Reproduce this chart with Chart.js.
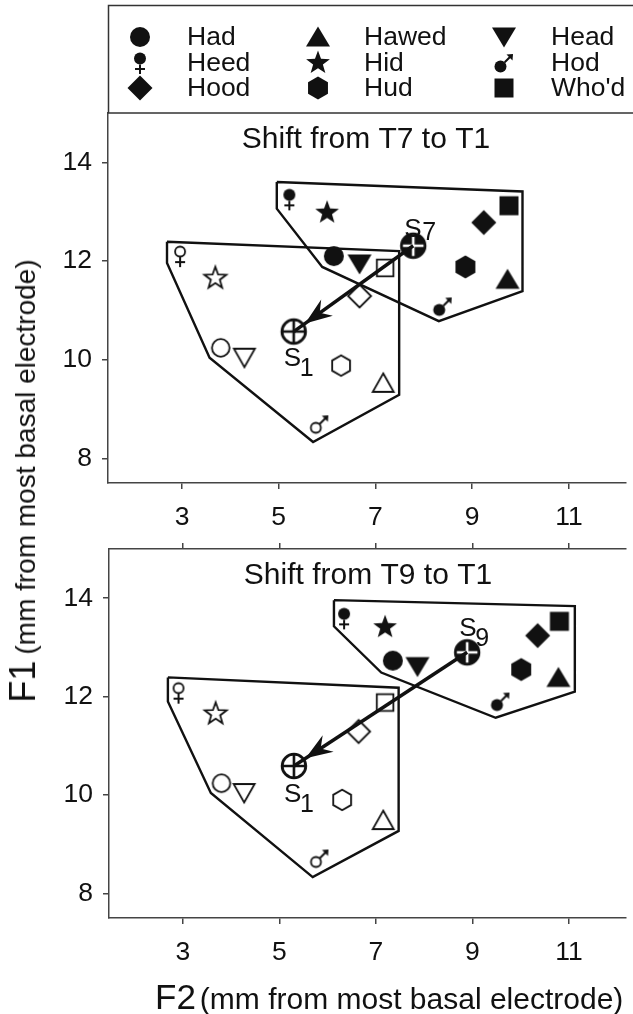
<!DOCTYPE html>
<html><head><meta charset="utf-8">
<script src="https://cdn.jsdelivr.net/npm/chart.js@4.4.0/dist/chart.umd.min.js"></script>
<style>
html,body{margin:0;padding:0;background:#fff;}
#wrap{position:relative;width:633px;height:1014px;overflow:hidden;font-family:"Liberation Sans",Arial,sans-serif;color:#111;}
#c1{position:absolute;left:0;top:0;}
#c2{position:absolute;left:0;top:540px;}
#ylab{position:absolute;left:23px;top:481px;transform:translate(-50%,-50%) rotate(-90deg);white-space:nowrap;line-height:1;}
#xlab{position:absolute;left:155px;top:979px;white-space:nowrap;line-height:1;}
</style></head>
<body><div id="wrap">
<canvas id="c1" width="633" height="540" style="width:633px;height:540px"></canvas>
<canvas id="c2" width="633" height="474" style="width:633px;height:474px"></canvas>
<div id="ylab"><span style="font-size:36px">F1</span><span style="font-size:28px;margin-left:6px">(mm from most basal electrode)</span></div>
<div id="xlab"><span style="font-size:35px">F2</span><span style="font-size:30px;margin-left:4px">(mm from most basal electrode)</span></div>
</div>
<script>
// ---------- data ----------
const vowels = ['Had','Hawed','Head','Heed','Hid','Hod','Hood','Hud',"Who'd"];
const xTicks = [3,5,7,9,11];
const yTicks = [8,10,12,14];
const titles = ['Shift from T7 to T1','Shift from T9 to T1'];

// Panel 1: T7 (filled) and T1 (open)   F2 = x, F1 = y
const t7F2 = [6.14, 9.73, 6.67, 5.22, 6.00, 8.39, 9.24, 8.86, 9.76];
const t7F1 = [12.10,11.63,11.94,13.25,12.98,11.08,12.78,11.88,13.12];
const t1aF2 = [3.80, 7.16, 4.29, 2.96, 3.69, 5.84, 6.67, 6.29, 7.20];
const t1aF1 = [10.24, 9.53,10.04,12.10,11.65, 8.69,11.29, 9.88,11.86];
const s7 = [7.78, 12.31];
const s1a = [5.31, 10.57];
const polyT7F2 = [4.96,10.04,10.04,8.31,5.90,4.96];
const polyT7F1 = [13.60,13.41,11.39,10.78,11.88,13.06];
const polyT1aF2 = [2.69,7.49,7.49,5.71,3.57,2.69];
const polyT1aF1 = [12.39,12.20,9.29,8.33,10.04,11.96];

// Panel 2: T9 (filled) and T1 (open)
const t9F2 = [7.35,10.78,7.86,6.34,7.19,9.58,10.35,10.01,10.80];
const t9F1 = [12.73,12.39,12.61,13.59,13.41,11.90,13.24,12.55,13.53];
const t1bF2 = [3.80, 7.15, 4.27, 2.91, 3.68, 5.83, 6.64, 6.30, 7.19];
const t1bF1 = [10.24, 9.49,10.04,12.08,11.65, 8.71,11.29, 9.90,11.88];
const s9 = [8.89, 12.90];
const s1b = [5.30, 10.59];
const polyT9F2 = [6.13,11.12,11.12,9.48,7.11,6.13];
const polyT9F1 = [13.96,13.84,12.10,11.57,12.49,13.43];
const polyT1bF2 = [2.69,7.47,7.47,5.69,3.58,2.69];
const polyT1bF1 = [12.39,12.18,9.27,8.33,10.04,11.90];

// ---------- marker images ----------
const INK = '#111';
const FONT = '"Liberation Sans", Arial, sans-serif';
const shapes = ['circle','triUp','triDown','female','star','male','diamond','hex','square'];
function mk(kind, filled){
  const S = 34, c = document.createElement('canvas'); c.width = S; c.height = S;
  const g = c.getContext('2d'); g.translate(S/2, S/2);
  g.fillStyle = INK; g.strokeStyle = INK; g.lineWidth = 1.8; g.lineJoin = 'miter';
  const fin = () => { if (filled) g.fill(); else { g.fillStyle = '#fff'; g.fill(); g.fillStyle = INK; g.stroke(); } };
  const poly = pts => { g.beginPath(); pts.forEach((p,i)=> i? g.lineTo(p[0],p[1]) : g.moveTo(p[0],p[1])); g.closePath(); fin(); };
  switch(kind){
    case 'circle': g.beginPath(); g.arc(0,0,filled?10:8.8,0,Math.PI*2); fin(); break;
    case 'triUp': filled ? poly([[0,-10.5],[12,9.5],[-12,9.5]]) : poly([[0,-9.5],[10.5,9],[-10.5,9]]); break;
    case 'triDown': filled ? poly([[-12,-9.5],[12,-9.5],[0,10.5]]) : poly([[-10.5,-9],[10.5,-9],[0,9.5]]); break;
    case 'diamond': { const r = filled?12.5:11.5; poly([[0,-r],[r,0],[0,r],[-r,0]]); break; }
    case 'square': { const h = filled?9.5:8.3; poly([[-h,-h],[h,-h],[h,h],[-h,h]]); break; }
    case 'hex': { const r = filled?11.5:10.3; const p=[]; for(let k=0;k<6;k++){const a=-Math.PI/2+k*Math.PI/3; p.push([r*Math.cos(a), r*Math.sin(a)]);} poly(p); break; }
    case 'star': { const R = filled?12.5:11.5, r = R*0.41; const p=[]; for(let k=0;k<10;k++){const a=-Math.PI/2+k*Math.PI/5; const rr=k%2?r:R; p.push([rr*Math.cos(a), rr*Math.sin(a)]);} poly(p); break; }
    case 'female': {
      const r = filled?6:5;
      g.beginPath(); g.arc(0,-4.5,r,0,Math.PI*2); fin();
      g.lineWidth = 2; g.beginPath(); g.moveTo(0,-4.5+r); g.lineTo(0,11); g.moveTo(-5,6); g.lineTo(5,6); g.stroke();
      break; }
    case 'male': {
      const r = filled?6:5, cx=-3.5, cy=3.5;
      g.beginPath(); g.arc(cx,cy,r,0,Math.PI*2); fin();
      g.lineWidth = 2; g.beginPath(); g.moveTo(cx+r*0.7,cy-r*0.7); g.lineTo(6.5,-6.5); g.stroke();
      g.beginPath(); g.moveTo(9,-9); g.lineTo(2.5,-8.5); g.lineTo(8.5,-2.5); g.closePath(); g.fill();
      break; }
  }
  return c;
}
function mkS(filled){
  const S = 34, c = document.createElement('canvas'); c.width = S; c.height = S;
  const g = c.getContext('2d'); g.translate(S/2, S/2);
  const r = 11.8;
  g.lineWidth = 2.8; g.strokeStyle = INK;
  g.beginPath(); g.arc(0,0,r,0,Math.PI*2); g.fillStyle = filled?INK:'#fff'; g.fill(); g.stroke();
  g.strokeStyle = filled ? '#fff' : INK; g.lineWidth = 2.6;
  const e = filled ? 1.5 : 0;
  g.beginPath(); g.moveTo(-r+e,0); g.lineTo(r-e,0); g.moveTo(0,-r+e); g.lineTo(0,r-e); g.stroke();
  return c;
}
const filledImgs = shapes.map(s => mk(s,true));
const openImgs = shapes.map(s => mk(s,false));
const sFilled = mkS(true), sOpen = mkS(false);

const pts = (xs, ys) => xs.map((x,i)=>({x, y: ys[i]}));
const closed = (xs, ys) => { const p = pts(xs, ys); p.push(p[0]); return p; };

function makeChart(canvas, cfg){
  const custom = {
    id:'custom',
    beforeDatasetDraw(chart, args){
      if (args.index !== 3) return;   // arrowhead drawn just before the open markers
      const X = chart.scales.x, Y = chart.scales.y;
      const ax = X.getPixelForValue(cfg.hi[0]), ay = Y.getPixelForValue(cfg.hi[1]);
      const bx = X.getPixelForValue(cfg.lo[0]), by = Y.getPixelForValue(cfg.lo[1]);
      const dx = ax-bx, dy = ay-by, L = Math.hypot(dx,dy), ux = dx/L, uy = dy/L;
      const tx = bx + ux*14, ty = by + uy*14;
      const len = 27, w = 10, notch = 18;
      const ctx = chart.ctx; ctx.save(); ctx.fillStyle = INK;
      ctx.beginPath();
      ctx.moveTo(tx,ty);
      ctx.lineTo(tx+ux*len - uy*w, ty+uy*len + ux*w);
      ctx.lineTo(tx+ux*notch, ty+uy*notch);
      ctx.lineTo(tx+ux*len + uy*w, ty+uy*len - ux*w);
      ctx.closePath(); ctx.fill(); ctx.restore();
    },
    afterDraw(chart){
      const ctx = chart.ctx, X = chart.scales.x, Y = chart.scales.y;
      ctx.save(); ctx.fillStyle = INK;
      ctx.font = '30px ' + FONT; ctx.textAlign = 'center'; ctx.textBaseline = 'middle';
      ctx.fillText(cfg.title, cfg.titleX, cfg.titleY);
      ctx.textAlign = 'left'; ctx.textBaseline = 'alphabetic';
      cfg.labels.forEach(l => {
        const px = X.getPixelForValue(l.at[0]), py = Y.getPixelForValue(l.at[1]);
        ctx.font = '26px ' + FONT; ctx.fillText('S', px + l.s[0], py + l.s[1]);
        ctx.font = '25px ' + FONT; ctx.fillText(l.sub, px + l.b[0], py + l.b[1]);
      });
      if (cfg.legend) {
        ctx.strokeStyle = '#333'; ctx.lineWidth = 1.5;
        ctx.strokeRect(108.5, 5.5, 560, 107.5);
        const rows = [37, 63, 88], mx = [140, 318, 504], tx = [187, 364, 551];
        ctx.font = '26.5px ' + FONT; ctx.textBaseline = 'middle';
        vowels.forEach((v,i) => {
          const r = Math.floor(i/3), c = i%3;
          const img = filledImgs[i];
          ctx.drawImage(img, mx[c]-img.width/2, rows[r]-img.height/2);
          ctx.fillText(v, tx[c], rows[r]+1);
        });
      }
      ctx.restore();
    }
  };
  const noPad = s => { s.paddingTop = 0; s.paddingBottom = 0; s.paddingLeft = 0; s.paddingRight = 0; };
  const axisCommon = {
    type:'linear',
    grid:{display:true, drawOnChartArea:false, drawTicks:true, tickLength:6, color:'#444', lineWidth:1.5},
    border:{display:true, color:'#444', width:1.5},
  };
  const scales = {
    x: Object.assign({}, axisCommon, {
      position:'bottom', min:1.47, max:12.18,
      afterBuildTicks: s => { s.ticks = xTicks.map(v=>({value:v})); },
      ticks:{font:{size:26.5, family:FONT}, color:INK, padding:13, maxRotation:0, autoSkip:false},
      afterFit: s => { s.height = 57; noPad(s); }
    }),
    y: Object.assign({}, axisCommon, {
      position:'left', min:7.5, max:15,
      afterBuildTicks: s => { s.ticks = yTicks.map(v=>({value:v})); },
      ticks:{font:{size:26.5, family:FONT}, color:INK, padding:10, autoSkip:false},
      afterFit: s => { s.width = cfg.yWidth; noPad(s); }
    })
  };
  if (cfg.topTicks) {
    scales.x2 = Object.assign({}, axisCommon, {
      position:'top', min:1.47, max:12.18, axis:'x',
      afterBuildTicks: s => { s.ticks = xTicks.map(v=>({value:v})); },
      ticks:{display:false},
      afterFit: s => { s.height = 6; noPad(s); }
    });
  }
  const lineDs = (data, w) => ({data, showLine:true, borderColor:INK, borderWidth:w, pointRadius:0, pointHoverRadius:0, fill:false, tension:0, borderJoinStyle:'miter'});
  return new Chart(canvas, {
    type:'scatter',
    data:{datasets:[
      lineDs(cfg.polyHi, 2.4),
      lineDs(cfg.polyLo, 2.4),
      lineDs([{x:cfg.hi[0],y:cfg.hi[1]},{x:cfg.lo[0],y:cfg.lo[1]}], 3.5),
      {data:cfg.open, pointStyle:openImgs, pointRadius:6, showLine:false},
      {data:cfg.filled, pointStyle:filledImgs, pointRadius:6, showLine:false},
      {data:[{x:cfg.hi[0],y:cfg.hi[1]},{x:cfg.lo[0],y:cfg.lo[1]}], pointStyle:[sFilled,sOpen], pointRadius:6, showLine:false}
    ]},
    options:{
      responsive:false, animation:false, events:[],
      layout:{padding:cfg.padding},
      plugins:{legend:{display:false}, tooltip:{enabled:false}, title:{display:false}},
      scales
    },
    plugins:[custom]
  });
}

makeChart(document.getElementById('c1'), {
  title: titles[0], titleX: 366, titleY: 140,
  polyHi: closed(polyT7F2, polyT7F1), polyLo: closed(polyT1aF2, polyT1aF1),
  hi: s7, lo: s1a,
  filled: pts(t7F2, t7F1), open: pts(t1aF2, t1aF1),
  labels: [{at:s7, sub:'7', s:[-9,-9], b:[9,-6]}, {at:s1a, sub:'1', s:[-10,34], b:[6,44]}],
  legend: true, topTicks: false, yWidth: 108,
  padding:{top:113, left:0, right:0, bottom:0}
});
makeChart(document.getElementById('c2'), {
  title: titles[1], titleX: 368, titleY: 36,
  polyHi: closed(polyT9F2, polyT9F1), polyLo: closed(polyT1bF2, polyT1bF1),
  hi: s9, lo: s1b,
  filled: pts(t9F2, t9F1), open: pts(t1bF2, t1bF1),
  labels: [{at:s9, sub:'9', s:[-8,-16], b:[8,-6]}, {at:s1b, sub:'1', s:[-10,36], b:[6,46]}],
  legend: false, topTicks: true, yWidth: 109,
  padding:{top:3, left:0, right:0, bottom:39}
});
</script>
</body></html>
